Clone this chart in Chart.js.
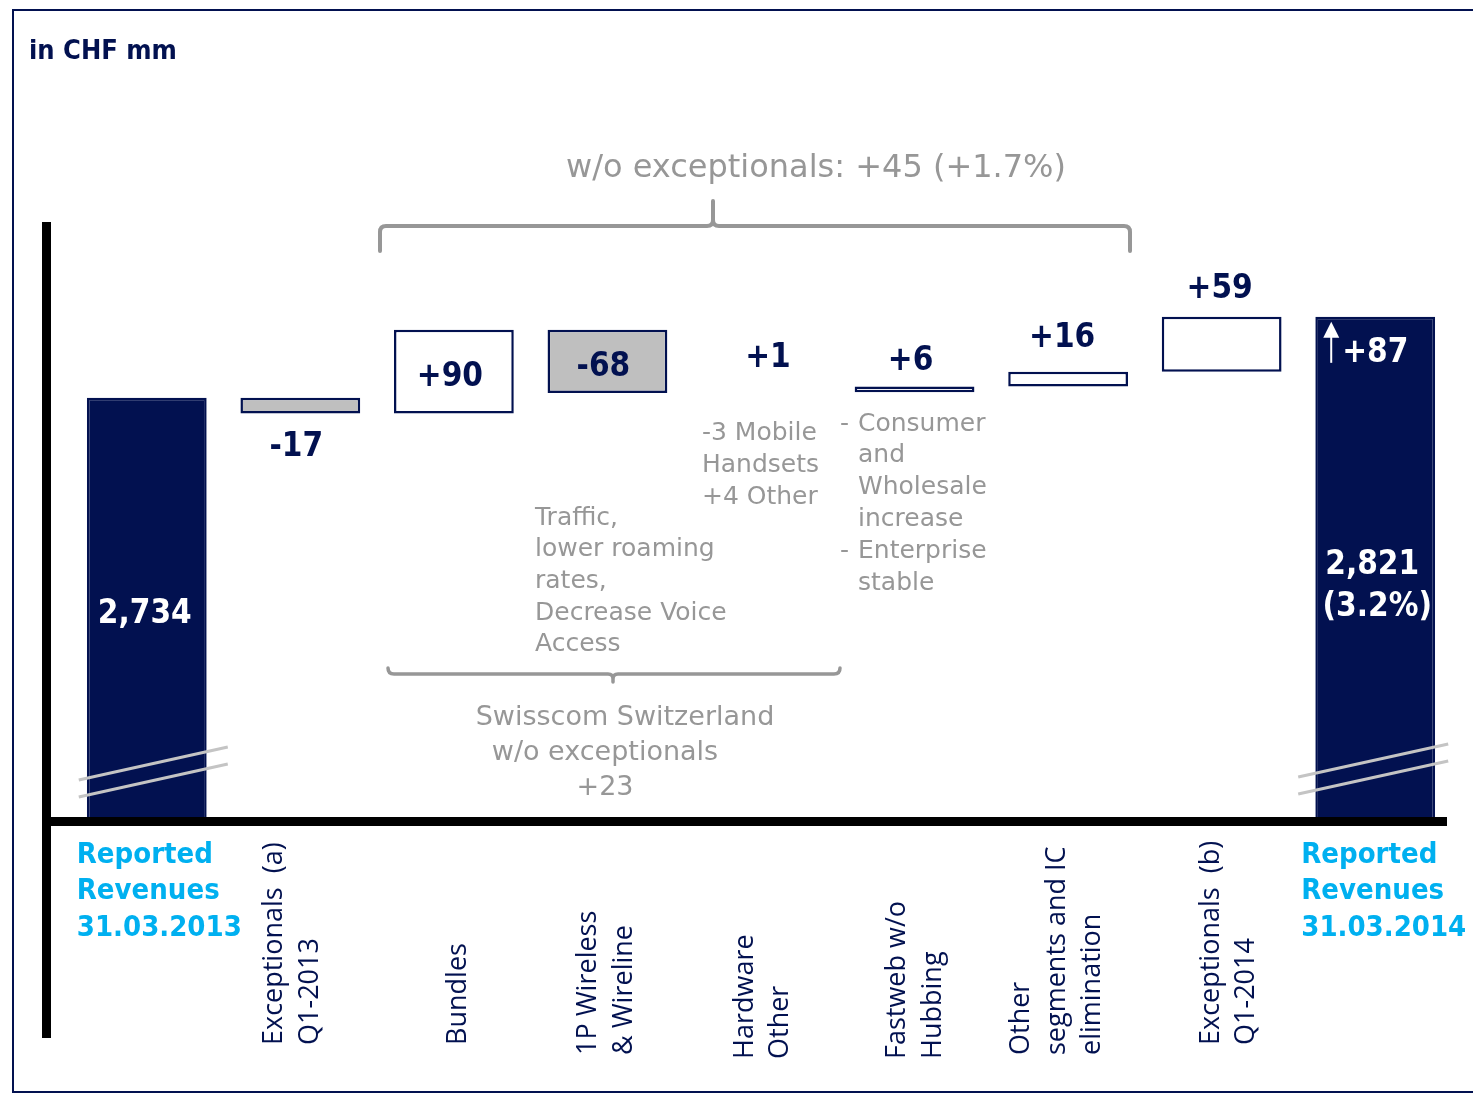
<!DOCTYPE html>
<html>
<head>
<meta charset="utf-8">
<title>Revenue bridge</title>
<script src="https://cdn.jsdelivr.net/npm/chart.js@4"></script>
<style>
  html, body { margin: 0; padding: 0; background: #fff; }
  #wrap { width: 1473px; height: 1095px; position: relative; }
</style>
</head>
<body>
<div id="wrap"><canvas id="myChart" width="1473" height="1095"></canvas></div>
<script>
// data
const categories = [
  ['Reported', 'Revenues', '31.03.2013'],
  ['Exceptionals  (a)', 'Q1-2013'],
  ['Bundles'],
  ['1P Wireless', '& Wireline'],
  ['Hardware', 'Other'],
  ['Fastweb w/o', 'Hubbing'],
  ['Other', 'segments and IC', 'elimination'],
  ['Exceptionals  (b)', 'Q1-2014'],
  ['Reported', 'Revenues', '31.03.2014']
];
const startValue = 2734;
const changes = [-17, 90, -68, 1, 6, 16, 59];
const endValue = 2821;
const totalChange = '+87';
const endGrowth = '(3.2%)';
const valueLabels = ['2,734', '-17', '+90', '-68', '+1', '+6', '+16', '+59', '2,821'];
const yMin = 2283, yMax = 2923;   // broken axis

// build floating bars for the waterfall
const ranges = [[0, startValue]];
let run = startValue;
changes.forEach(c => {
  ranges.push([run, run + c]);
  run += c;
});
ranges.push([0, endValue]);

const NAVY = '#021150';
const GRAY = '#979797';
const CYAN = '#00b0f0';
const fills = [NAVY, '#bfbfbf', '#fff', '#bfbfbf', '#fff', '#fff', '#fff', '#fff', NAVY];
const borders = [2.5, 2.5, 2.5, 2.5, 0, 2.5, 2.5, 2.5, 2.5];
// where the value goes: m = middle, b = below, a = above
const labelPos = ['m', 'b', 'm', 'm', 'a', 'a', 'a', 'a', 'm'];
const labelDx = [-2, -4, -4, -4, 7, -4, -6, -2, -3];
const aboveGap = [0, 0, 0, 0, 38, 29, 37, 31, 0];

const BOLD = 'bold 33px "DejaVu Sans Condensed", "DejaVu Sans", sans-serif';
const NOTE = '25px "DejaVu Sans", sans-serif';
const AXIS = '27px "Open Sans", sans-serif';

// middle baseline sits a bit high for these fonts, nudge down
function txt(ctx, s, x, y, font, color, align, dy) {
  ctx.font = font;
  ctx.fillStyle = color;
  ctx.textAlign = align || 'center';
  ctx.textBaseline = 'middle';
  ctx.fillText(s, x, y + (dy === undefined ? 3 : dy));
}

const deco = {
  id: 'deco',
  beforeDraw(chart) {
    const ctx = chart.ctx;
    ctx.save();
    ctx.fillStyle = '#fff';
    ctx.fillRect(0, 0, chart.width, chart.height);
    ctx.strokeStyle = NAVY;
    ctx.lineWidth = 2;
    ctx.strokeRect(13, 10, chart.width + 20, 1082);
    txt(ctx, 'in CHF mm', 29, 49, 'bold 27px "DejaVu Sans Condensed", "DejaVu Sans", sans-serif', NAVY, 'left');
    ctx.restore();
  },
  afterDatasetsDraw(chart) {
    const ctx = chart.ctx;
    const area = chart.chartArea;
    const bars = chart.getDatasetMeta(0).data;
    const last = bars.length - 1;
    ctx.save();

    // axis break marks on the two totals
    ctx.strokeStyle = '#c4c4c4';
    ctx.lineWidth = 3;
    [[0, -68, 81, 0], [last, -77, 73, -3]].forEach(([i, l, r, dy]) => {
      const cx = bars[i].x;
      [0, 17].forEach(off => {
        ctx.beginPath();
        ctx.moveTo(cx + l, 780 + off + dy);
        ctx.lineTo(cx + r, 747 + off + dy);
        ctx.stroke();
      });
    });

    // axes
    ctx.fillStyle = '#000';
    ctx.fillRect(42, area.top, 9, 1038 - area.top);
    ctx.fillRect(46, area.bottom, 1401, 9);

    // value labels
    bars.forEach((b, i) => {
      const top = Math.min(b.y, b.base);
      const bot = Math.max(b.y, b.base);
      const visBot = Math.min(bot, area.bottom);
      let y;
      if (labelPos[i] === 'm') y = (top + visBot) / 2;
      else if (labelPos[i] === 'b') y = bot + 30;
      else y = top - aboveGap[i];
      const col = fills[i] === NAVY ? '#fff' : NAVY;
      const x = b.x + labelDx[i];
      if (i === 0) txt(ctx, valueLabels[i], x, y + 4, BOLD, col);
      else if (i === last) {
        txt(ctx, valueLabels[i], x, y - 4, BOLD, col);
        txt(ctx, endGrowth, b.x + 2, y + 38, BOLD, col);
        txt(ctx, totalChange, b.x, top + 34, BOLD, col);
        // arrow
        ctx.strokeStyle = '#fff';
        ctx.lineWidth = 2;
        ctx.beginPath();
        ctx.moveTo(b.x - 44, top + 46);
        ctx.lineTo(b.x - 44, top + 18);
        ctx.stroke();
        ctx.fillStyle = '#fff';
        ctx.beginPath();
        ctx.moveTo(b.x - 44, top + 5);
        ctx.lineTo(b.x - 52, top + 21);
        ctx.lineTo(b.x - 36, top + 21);
        ctx.closePath();
        ctx.fill();
      } else txt(ctx, valueLabels[i], x, y + (labelPos[i] === 'm' ? 3 : 1), BOLD, col);
    });

    // category labels
    const shift = [0, -8, 4, -1, 2, 1, -11, 7, 0];
    const startY = [0, 1045, 1045, 1055, 1059, 1059, 1055, 1045, 0];
    categories.forEach((lines, i) => {
      const b = bars[i];
      if (i === 0 || i === last) {
        const x = i === 0 ? b.x - 70 : b.x - 74;
        lines.forEach((s, j) => txt(ctx, s, x, 852 + j * 36.5,
          'bold 29px "DejaVu Sans Condensed", "DejaVu Sans", sans-serif', CYAN, 'left'));
        return;
      }
      const n = lines.length;
      lines.forEach((s, j) => {
        const x = b.x + shift[i] + (j - (n - 1) / 2) * 35.5;
        ctx.save();
        ctx.translate(x, startY[i]);
        ctx.rotate(-Math.PI / 2);
        txt(ctx, s, 0, 0, AXIS, NAVY, 'left', 0);
        ctx.restore();
      });
    });

    // notes
    ['-3 Mobile', 'Handsets', '+4 Other'].forEach((s, j) => txt(ctx, s, 702, 430 + j * 32, NOTE, GRAY, 'left'));
    ['Traffic,', 'lower roaming', 'rates,', 'Decrease Voice', 'Access'].forEach((s, j) =>
      txt(ctx, s, 535, 515 + j * 31.7, NOTE, GRAY, 'left'));
    txt(ctx, '-', 840, 421, NOTE, GRAY, 'left');
    txt(ctx, '-', 840, 548, NOTE, GRAY, 'left');
    ['Consumer', 'and', 'Wholesale', 'increase', 'Enterprise', 'stable'].forEach((s, j) =>
      txt(ctx, s, 858, 421 + j * 31.8, NOTE, GRAY, 'left'));
    txt(ctx, 'Swisscom Switzerland', 625, 715, '27px "DejaVu Sans", sans-serif', GRAY);
    txt(ctx, 'w/o exceptionals', 605, 750, '27px "DejaVu Sans", sans-serif', GRAY);
    txt(ctx, '+23', 605, 785, '27px "DejaVu Sans", sans-serif', GRAY);
    txt(ctx, 'w/o exceptionals: +45 (+1.7%)', 816, 166, '32px "DejaVu Sans", sans-serif', GRAY);

    // brackets
    ctx.strokeStyle = GRAY;
    ctx.lineWidth = 4;
    ctx.lineCap = 'round';
    ctx.beginPath();
    ctx.moveTo(380, 251);
    ctx.lineTo(380, 232);
    ctx.quadraticCurveTo(380, 226, 386, 226);
    ctx.lineTo(707, 226);
    ctx.quadraticCurveTo(713, 226, 713, 220);
    ctx.lineTo(713, 201);
    ctx.moveTo(713, 220);
    ctx.quadraticCurveTo(713, 226, 719, 226);
    ctx.lineTo(1124, 226);
    ctx.quadraticCurveTo(1130, 226, 1130, 232);
    ctx.lineTo(1130, 251);
    ctx.stroke();

    ctx.lineWidth = 3.5;
    ctx.beginPath();
    ctx.moveTo(388, 668);
    ctx.quadraticCurveTo(388, 674, 394, 674);
    ctx.lineTo(608, 674);
    ctx.quadraticCurveTo(613, 674, 613, 679);
    ctx.lineTo(613, 682);
    ctx.moveTo(613, 679);
    ctx.quadraticCurveTo(613, 674, 618, 674);
    ctx.lineTo(834, 674);
    ctx.quadraticCurveTo(840, 674, 840, 668);
    ctx.stroke();

    ctx.restore();
  }
};

const ctx = document.getElementById('myChart').getContext('2d');
const myChart = new Chart(ctx, {
  type: 'bar',
  data: {
    labels: categories,
    datasets: [{
      data: ranges,
      backgroundColor: fills,
      borderColor: NAVY,
      borderWidth: borders,
      borderSkipped: false,
      barPercentage: 0.78,
      categoryPercentage: 1,
      clip: { left: false, top: false, right: false, bottom: 0 }
    }]
  },
  options: {
    responsive: false,
    animation: false,
    layout: { padding: { left: 70, right: 21, top: 222, bottom: 278 } },
    plugins: { legend: { display: false }, tooltip: { enabled: false } },
    scales: {
      x: { display: false },
      y: { display: false, min: yMin, max: yMax }
    }
  },
  plugins: [deco]
});
</script>
</body>
</html>
